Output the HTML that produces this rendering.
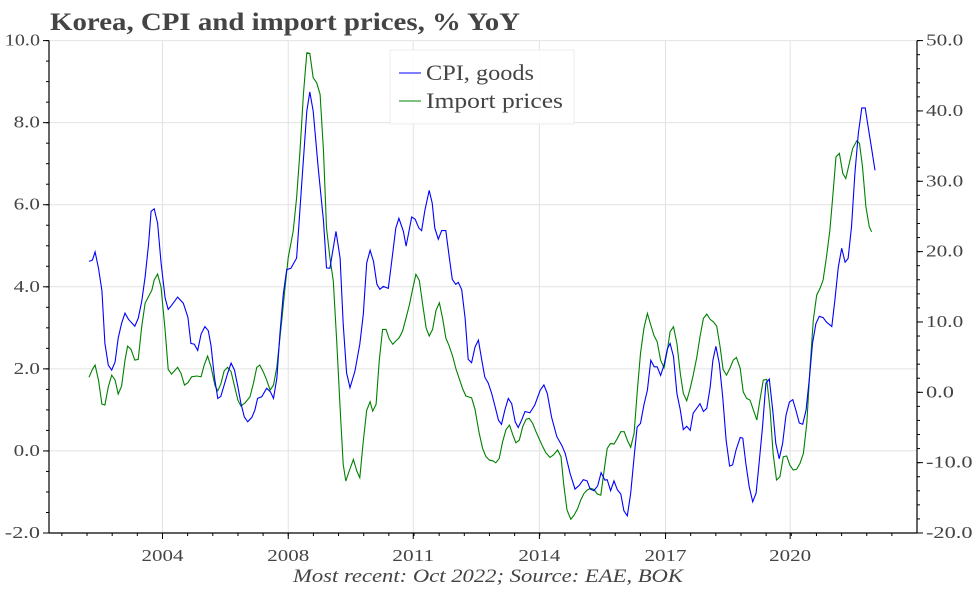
<!DOCTYPE html>
<html><head><meta charset="utf-8"><style>
html,body{margin:0;padding:0;background:#fff;}
svg{display:block;font-family:"Liberation Serif",serif;}
</style></head><body>
<svg id="chart" width="972" height="589" viewBox="0 0 972 589">
<text x="50" y="30" font-size="25" font-weight="bold" fill="#444" textLength="470" lengthAdjust="spacingAndGlyphs">Korea, CPI and import prices, % YoY</text>
<g id="grid"></g>
<g id="series"></g>
<g id="axes"></g>
<g>
<rect x="390" y="50" width="184" height="74" fill="#fff" fill-opacity="0.9" stroke="#eee"/>
<line x1="399" y1="73" x2="421" y2="73" stroke="#0000ff" stroke-width="1"/>
<text x="426" y="80" font-size="22" fill="#444" textLength="108" lengthAdjust="spacingAndGlyphs">CPI, goods</text>
<line x1="399" y1="101" x2="421" y2="101" stroke="#008000" stroke-width="1"/>
<text x="426" y="108" font-size="22" fill="#444" textLength="137" lengthAdjust="spacingAndGlyphs">Import prices</text>
</g>
<text x="488" y="582" font-size="19" font-style="italic" fill="#444" text-anchor="middle" textLength="390" lengthAdjust="spacingAndGlyphs">Most recent: Oct 2022; Source: EAE, BOK</text>
</svg>
<script>
const cpiDates=[2002.00,2002.09,2002.16,2002.25,2002.34,2002.42,2002.51,2002.60,2002.69,2002.77,2002.86,2002.95,2003.04,2003.21,2003.30,2003.39,2003.48,2003.57,2003.64,2003.72,2003.81,2003.90,2004.01,2004.09,2004.18,2004.34,2004.49,2004.61,2004.69,2004.78,2004.87,2004.96,2005.06,2005.15,2005.22,2005.31,2005.40,2005.48,2005.66,2005.75,2005.84,2005.93,2006.01,2006.10,2006.19,2006.30,2006.38,2006.45,2006.56,2006.69,2006.79,2006.87,2006.96,2007.04,2007.13,2007.22,2007.33,2007.48,2007.62,2007.75,2007.83,2007.92,2008.05,2008.19,2008.27,2008.36,2008.42,2008.52,2008.63,2008.71,2008.80,2008.89,2009.02,2009.15,2009.24,2009.33,2009.42,2009.51,2009.60,2009.68,2009.77,2009.90,2009.99,2010.10,2010.18,2010.30,2010.37,2010.52,2010.61,2010.71,2010.78,2010.87,2010.98,2011.06,2011.13,2011.22,2011.31,2011.42,2011.50,2011.59,2011.68,2011.75,2011.84,2011.93,2012.01,2012.10,2012.19,2012.28,2012.37,2012.45,2012.54,2012.63,2012.72,2012.81,2012.89,2012.98,2013.07,2013.16,2013.25,2013.33,2013.42,2013.51,2013.64,2013.77,2013.91,2014.01,2014.10,2014.21,2014.35,2014.48,2014.57,2014.70,2014.83,2014.94,2015.05,2015.15,2015.23,2015.33,2015.43,2015.52,2015.62,2015.68,2015.77,2015.86,2015.95,2016.04,2016.12,2016.21,2016.30,2016.39,2016.47,2016.56,2016.65,2016.74,2016.83,2016.92,2017.00,2017.09,2017.18,2017.27,2017.34,2017.43,2017.52,2017.61,2017.69,2017.78,2017.87,2017.95,2018.13,2018.22,2018.31,2018.40,2018.47,2018.55,2018.64,2018.73,2018.82,2018.91,2018.99,2019.08,2019.19,2019.26,2019.34,2019.43,2019.52,2019.61,2019.69,2019.78,2019.87,2019.96,2020.05,2020.13,2020.22,2020.31,2020.40,2020.49,2020.58,2020.66,2020.75,2020.84,2020.93,2021.02,2021.10,2021.19,2021.28,2021.38,2021.47,2021.61,2021.69,2021.78,2021.87,2021.96,2022.04,2022.13,2022.22,2022.31,2022.40,2022.49,2022.57,2022.66,2022.75];
const cpiValues=[4.62,4.65,4.85,4.45,3.91,2.62,2.09,1.97,2.17,2.75,3.11,3.36,3.21,3.04,3.23,3.64,4.24,5.02,5.84,5.90,5.55,4.60,3.73,3.45,3.55,3.75,3.60,3.26,2.62,2.60,2.45,2.85,3.03,2.93,2.57,1.80,1.28,1.33,1.89,2.14,1.97,1.56,1.16,0.83,0.71,0.82,1.00,1.28,1.32,1.53,1.44,1.28,1.78,2.85,3.82,4.42,4.45,4.70,6.57,8.28,8.75,8.28,6.90,5.60,4.46,4.45,4.79,5.35,4.70,3.09,1.90,1.54,1.94,2.60,3.33,4.58,4.89,4.62,4.06,3.94,4.01,3.96,4.62,5.43,5.67,5.35,4.99,5.70,5.65,5.43,5.37,5.88,6.35,6.04,5.43,5.16,5.37,5.37,4.79,4.18,4.06,4.11,3.93,3.24,2.23,2.15,2.53,2.70,2.21,1.80,1.65,1.40,1.08,0.75,0.65,1.00,1.28,1.15,0.71,0.57,0.75,0.96,0.93,1.12,1.48,1.61,1.40,0.83,0.35,0.14,-0.06,-0.55,-0.93,-0.84,-0.70,-0.73,-0.93,-0.97,-0.85,-0.53,-0.71,-0.70,-0.97,-0.73,-0.95,-1.05,-1.46,-1.58,-1.03,-0.15,0.58,0.67,1.12,1.48,2.21,2.05,2.05,1.84,2.09,2.49,2.62,2.30,1.40,1.00,0.52,0.60,0.50,0.92,1.15,0.96,1.04,1.56,2.21,2.55,2.13,1.32,0.27,-0.37,-0.34,0.02,0.33,0.31,-0.30,-0.87,-1.24,-1.03,-0.30,0.58,1.65,1.75,1.00,0.18,-0.19,0.18,0.87,1.19,1.25,1.00,0.68,0.65,1.00,1.80,2.62,3.10,3.28,3.25,3.14,3.03,3.68,4.48,4.94,4.60,4.69,5.46,6.76,7.73,8.36,8.36,7.89,7.37,6.84];
const importDates=[2002.00,2002.09,2002.16,2002.25,2002.34,2002.42,2002.51,2002.60,2002.69,2002.77,2002.86,2002.95,2003.02,2003.11,2003.21,2003.30,2003.39,2003.48,2003.66,2003.72,2003.81,2003.90,2004.01,2004.09,2004.18,2004.34,2004.43,2004.52,2004.61,2004.71,2004.84,2004.96,2005.04,2005.13,2005.22,2005.33,2005.40,2005.48,2005.57,2005.66,2005.75,2005.84,2005.93,2006.01,2006.12,2006.25,2006.34,2006.43,2006.51,2006.60,2006.69,2006.78,2006.87,2006.96,2007.09,2007.17,2007.26,2007.39,2007.48,2007.57,2007.66,2007.75,2007.83,2007.92,2008.01,2008.10,2008.19,2008.27,2008.36,2008.45,2008.54,2008.63,2008.71,2008.78,2008.87,2008.98,2009.07,2009.15,2009.24,2009.33,2009.42,2009.49,2009.58,2009.66,2009.75,2009.84,2009.93,2010.02,2010.10,2010.19,2010.28,2010.37,2010.46,2010.55,2010.63,2010.72,2010.81,2010.90,2010.98,2011.07,2011.16,2011.25,2011.34,2011.42,2011.51,2011.60,2011.69,2011.78,2011.87,2011.95,2012.04,2012.10,2012.19,2012.30,2012.39,2012.48,2012.57,2012.66,2012.74,2012.83,2012.92,2013.01,2013.10,2013.19,2013.27,2013.36,2013.45,2013.54,2013.62,2013.71,2013.80,2013.89,2013.98,2014.06,2014.17,2014.26,2014.37,2014.46,2014.53,2014.62,2014.72,2014.81,2014.90,2014.98,2015.07,2015.15,2015.24,2015.33,2015.42,2015.51,2015.60,2015.68,2015.77,2015.86,2015.95,2016.04,2016.13,2016.21,2016.30,2016.39,2016.47,2016.56,2016.65,2016.74,2016.83,2016.92,2017.00,2017.09,2017.18,2017.27,2017.34,2017.43,2017.52,2017.61,2017.69,2017.78,2017.87,2017.95,2018.04,2018.13,2018.22,2018.31,2018.40,2018.48,2018.57,2018.66,2018.74,2018.83,2018.92,2019.01,2019.09,2019.19,2019.27,2019.36,2019.45,2019.54,2019.63,2019.71,2019.80,2019.89,2019.98,2020.06,2020.15,2020.24,2020.33,2020.42,2020.50,2020.59,2020.68,2020.77,2020.86,2020.95,2021.03,2021.12,2021.21,2021.30,2021.38,2021.47,2021.56,2021.65,2021.72,2021.81,2021.90,2021.98,2022.07,2022.16,2022.27,2022.34,2022.42,2022.51,2022.60,2022.66];
const importValues=[2.13,3.26,3.87,1.74,-1.67,-1.81,0.79,2.45,1.74,-0.25,0.89,4.58,6.57,6.11,4.58,4.68,9.32,12.65,14.54,15.96,16.80,15.00,8.85,3.26,2.59,3.55,2.69,1.03,1.36,2.21,2.32,2.21,3.87,5.15,3.64,0.89,0.22,1.17,3.06,3.55,2.93,0.89,-1.10,-1.95,-1.49,-0.63,1.27,3.55,3.87,2.93,1.74,0.32,1.03,3.64,10.27,14.54,19.13,22.92,27.65,34.29,42.35,48.27,48.18,44.71,44.00,42.35,34.29,23.39,19.13,15.81,7.29,-2.20,-10.24,-12.62,-11.19,-9.53,-11.19,-12.14,-6.92,-2.56,-1.34,-2.67,-1.71,4.44,8.94,8.94,7.53,6.82,7.29,7.75,8.71,10.60,12.50,14.86,16.77,15.91,12.50,9.17,8.00,8.94,11.65,12.73,10.37,7.75,6.57,5.15,3.26,1.84,0.42,-0.53,-0.68,-0.78,-2.42,-5.83,-7.97,-9.16,-9.63,-9.73,-10.02,-9.39,-7.03,-5.27,-4.66,-6.08,-7.17,-6.79,-4.89,-3.84,-3.70,-4.41,-5.60,-6.69,-7.74,-8.59,-9.25,-8.91,-8.20,-9.16,-12.94,-16.73,-18.05,-17.44,-16.50,-15.32,-14.36,-13.90,-13.65,-13.79,-14.46,-14.61,-11.05,-7.97,-7.26,-7.36,-6.54,-5.60,-5.60,-6.79,-7.82,-5.83,-0.15,5.54,9.09,11.22,9.56,8.00,7.18,4.58,3.49,6.01,8.61,9.32,6.95,2.69,-0.15,-1.20,0.56,2.45,4.83,7.90,10.51,11.12,10.37,10.03,9.42,6.47,3.26,2.45,3.41,4.58,4.96,3.41,0.08,-0.86,-1.10,-2.52,-3.94,-1.10,1.74,1.84,-2.52,-8.68,-12.47,-12.01,-9.16,-9.06,-10.34,-11.05,-10.95,-10.10,-8.68,-4.41,3.16,10.27,13.82,14.78,15.96,19.27,23.06,28.74,33.48,33.96,31.12,30.40,32.54,34.67,35.76,35.38,32.06,26.38,23.53,22.82];
const xTickYears=[2003.94,2007.26,2010.56,2013.89,2017.22,2020.51];
const xTickLabels=["2004","2008","2011","2014","2017","2020"];
const leftTicks=[-2,0,2,4,6,8,10];
const leftTickLabels=["-2.0","0.0","2.0","4.0","6.0","8.0","10.0"];
const rightTicks=[-20,-10,0,10,20,30,40,50];
const rightTickLabels=["-20.0","-10.0","0.0","10.0","20.0","30.0","40.0","50.0"];

const NS="http://www.w3.org/2000/svg";
const PL=49,PR=917,PT=40.6,PB=533;
function xS(yr){return 89+(yr-2002)*37.88;}
function yL(v){return PB-(v+2)*(PB-PT)/12;}
function yR(v){return PB-(v+20)*(PB-PT)/70;}
function mk(tag,attrs,parent){const e=document.createElementNS(NS,tag);for(const k in attrs)e.setAttribute(k,attrs[k]);parent.appendChild(e);return e;}
const grid=document.getElementById('grid'),axes=document.getElementById('axes'),series=document.getElementById('series');
const CW=8.8;

leftTicks.forEach((v,i)=>{
  const y=yL(v);
  if(v>-2){const g=mk('line',{x1:PL,x2:PR,y1:y,y2:y,stroke:'#e2e2e2','stroke-width':1},grid);
  
  }
  const t=mk('line',{x1:PL-6,x2:PL,y1:y,y2:y,stroke:'#000','stroke-width':1},axes);
  
  
  const lab=leftTickLabels[i];
  const l=mk('text',{x:PL-9,y:y+5,'font-size':17,fill:'#444','text-anchor':'end',textLength:(lab.length*CW).toFixed(1),lengthAdjust:'spacingAndGlyphs'},axes);
  l.textContent=lab;
  
  
});
for(let v=-2;v<=10;v+=0.5){const y=yL(v);
  const t=mk('line',{x1:PL-3,x2:PL,y1:y,y2:y,stroke:'#000','stroke-width':1},axes);
  
  }
rightTicks.forEach((v,i)=>{
  const y=yR(v);
  const t=mk('line',{x1:PR,x2:PR+6,y1:y,y2:y,stroke:'#000','stroke-width':1},axes);
  
  
  const lab=rightTickLabels[i];
  const l=mk('text',{x:PR+9,y:y+5,'font-size':17,fill:'#444',textLength:(lab.length*9.3).toFixed(1),lengthAdjust:'spacingAndGlyphs'},axes);
  l.textContent=lab;
  
  
});
for(let v=-20;v<=50;v+=2){const y=yR(v);
  const t=mk('line',{x1:PR,x2:PR+3,y1:y,y2:y,stroke:'#000','stroke-width':1},axes);
  
  }
xTickYears.forEach((yr,i)=>{
  const x=xS(yr);
  const g=mk('line',{x1:x,x2:x,y1:PT,y2:PB,stroke:'#e2e2e2','stroke-width':1},grid);
  
  
  const t=mk('line',{x1:x,x2:x,y1:PB,y2:PB+6,stroke:'#000','stroke-width':1},axes);
  
  
  const l=mk('text',{x:x,y:PB+28,'font-size':17,fill:'#444','text-anchor':'middle',textLength:42,lengthAdjust:'spacingAndGlyphs'},axes);
  l.textContent=xTickLabels[i];
  
  
});
const minorStep=(xTickYears[1]-xTickYears[0])/5;
for(let yr=xTickYears[0]-4*minorStep;xS(yr)<PR;yr+=minorStep){const x=xS(yr);
  const t=mk('line',{x1:x,x2:x,y1:PB,y2:PB+3,stroke:'#000','stroke-width':1},axes);
  
  }
[[PL,PT,PL,PB],[PL,PB,PR,PB],[PR,PT,PR,PB]].forEach(c=>{
  const s=mk('line',{x1:c[0],y1:c[1],x2:c[2],y2:c[3],stroke:'#000','stroke-width':1.2},axes);
  
  
});
const imp=mk('polyline',{points:importDates.map((d,i)=>xS(d).toFixed(1)+','+yR(importValues[i]).toFixed(1)).join(' '),fill:'none',stroke:'#008000','stroke-width':1.1},series);


const cpi=mk('polyline',{points:cpiDates.map((d,i)=>xS(d).toFixed(1)+','+yL(cpiValues[i]).toFixed(1)).join(' '),fill:'none',stroke:'#0000ff','stroke-width':1.1},series);


</script>
</body></html>
